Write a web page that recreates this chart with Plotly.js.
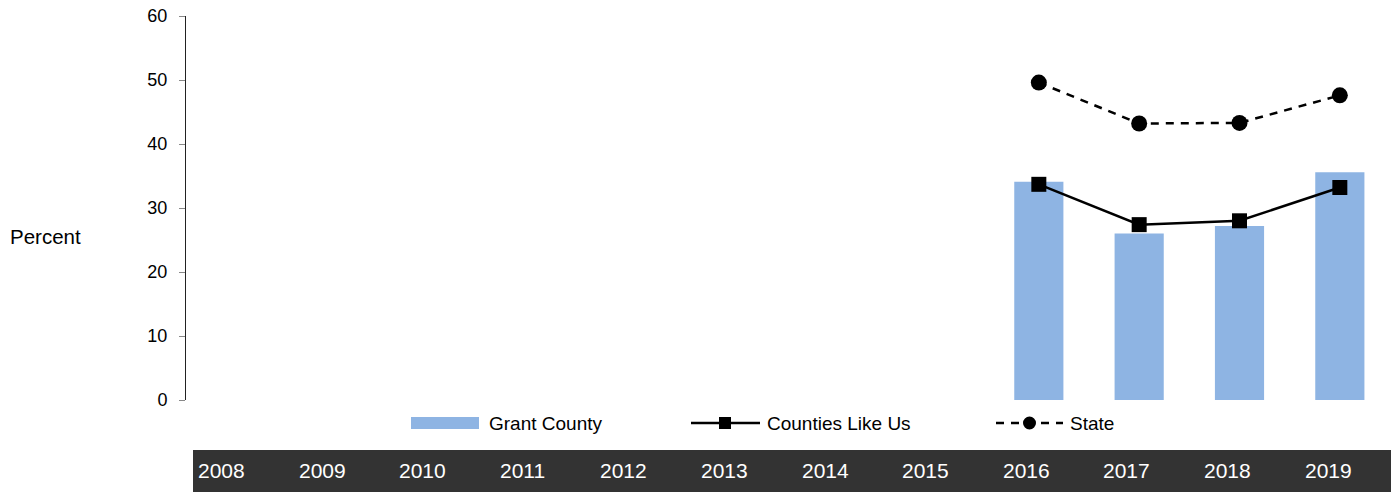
<!DOCTYPE html>
<html>
<head>
<meta charset="utf-8">
<script src="https://cdn.plot.ly/plotly-3.0.1.min.js"></script>
<style>html,body{margin:0;padding:0;background:#fff;}#chart{width:1396px;height:492px;}</style>
</head>
<body>
<div id="chart"></div>
<script>
const years = ["2008","2009","2010","2011","2012","2013","2014","2015","2016","2017","2018","2019"];
const grantCounty = [null,null,null,null,null,null,null,null,34.1,26.0,27.2,35.6];
const countiesLikeUs = [null,null,null,null,null,null,null,null,33.7,27.4,28.0,33.2];
const state = [null,null,null,null,null,null,null,null,49.6,43.2,43.3,47.6];
const seriesNames = ["Grant County","Counties Like Us","State"];
const yTicks = [0,10,20,30,40,50,60];

const FONT = "Liberation Sans, Arial, sans-serif";
const W = 1396, H = 492;
const L = 186, R = 6, T = 16, B = 92;
const pw = W - L - R, ph = H - T - B;
const px = x => (x - L) / pw;           // pixel -> paper x
const py = y => (H - B - y) / ph;       // pixel -> paper y

const traces = [
  {type:"bar", x: years, y: grantCounty, name: seriesNames[0],
   marker:{color:"#8EB4E3"}, width:0.49, showlegend:false, hoverinfo:"x+y"},
  {type:"scatter", mode:"lines+markers", x: years, y: countiesLikeUs, name: seriesNames[1],
   line:{color:"#000", width:2.5}, marker:{symbol:"square", size:15, color:"#000"},
   showlegend:false, connectgaps:false},
  {type:"scatter", mode:"lines+markers", x: years, y: state, name: seriesNames[2],
   line:{color:"#000", width:2.5, dash:"8px,7px"}, marker:{symbol:"circle", size:16, color:"#000"},
   showlegend:false, connectgaps:false}
];

const shapes = [];
const annotations = [];

// category band
shapes.push({type:"rect", xref:"paper", yref:"paper", x0:px(193), x1:px(1391), y0:py(492), y1:py(450),
  fillcolor:"#333333", line:{width:0}, layer:"above"});
years.forEach((yr,i)=>{
  annotations.push({xref:"paper", yref:"paper", x:px(196 + 100.6*i), y:py(470), xanchor:"left", yanchor:"middle",
    text:yr, showarrow:false, font:{family:FONT, size:21, color:"#ffffff"}});
});

// y title
annotations.push({xref:"paper", yref:"paper", x:px(8), y:py(237), xanchor:"left", yanchor:"middle",
  text:"Percent", showarrow:false, font:{family:FONT, size:20.5, color:"#000"}});

// legend (manual)
const ly = 423;
shapes.push({type:"rect", xref:"paper", yref:"paper", x0:px(411), x1:px(479), y0:py(429), y1:py(417),
  fillcolor:"#8EB4E3", line:{width:0}});
shapes.push({type:"line", xref:"paper", yref:"paper", x0:px(691), x1:px(760), y0:py(ly), y1:py(ly),
  line:{color:"#000", width:2.5}});
shapes.push({type:"rect", xref:"paper", yref:"paper", x0:px(719), x1:px(731), y0:py(ly+6), y1:py(ly-6),
  fillcolor:"#000", line:{width:0}});
shapes.push({type:"line", xref:"paper", yref:"paper", x0:px(996), x1:px(1063), y0:py(ly), y1:py(ly),
  line:{color:"#000", width:2.5, dash:"8px,7px"}});
shapes.push({type:"circle", xref:"paper", yref:"paper", x0:px(1023), x1:px(1036), y0:py(ly+6.5), y1:py(ly-6.5),
  fillcolor:"#000", line:{width:0}});
[[487, seriesNames[0]],[765, seriesNames[1]],[1068, seriesNames[2]]].forEach(([x,t])=>{
  annotations.push({xref:"paper", yref:"paper", x:px(x), y:py(ly), xanchor:"left", yanchor:"middle",
    text:t, showarrow:false, font:{family:FONT, size:19, color:"#000"}});
});

const layout = {
  width:W, height:H,
  margin:{l:L, r:R, t:T, b:B, pad:0},
  paper_bgcolor:"#fff", plot_bgcolor:"#fff",
  showlegend:false,
  bargap:0.51,
  xaxis:{type:"category", categoryorder:"array", categoryarray:years, range:[-0.5, 11.5],
    showticklabels:false, ticks:"", showline:false, showgrid:false, zeroline:false, fixedrange:true},
  yaxis:{range:[0,60], tickvals:yTicks, ticktext:yTicks.map(String), ticks:"outside", ticklen:6, tickwidth:1,
    tickcolor:"#888", showline:true, linecolor:"#222", linewidth:1, showgrid:false, zeroline:false,
    tickfont:{family:FONT, size:18, color:"#000"}, ticklabelstandoff:8, fixedrange:true},
  shapes:shapes,
  annotations:annotations,
  font:{family:FONT}
};

Plotly.newPlot("chart", traces, layout, {staticPlot:true, displayModeBar:false});
</script>
</body>
</html>
